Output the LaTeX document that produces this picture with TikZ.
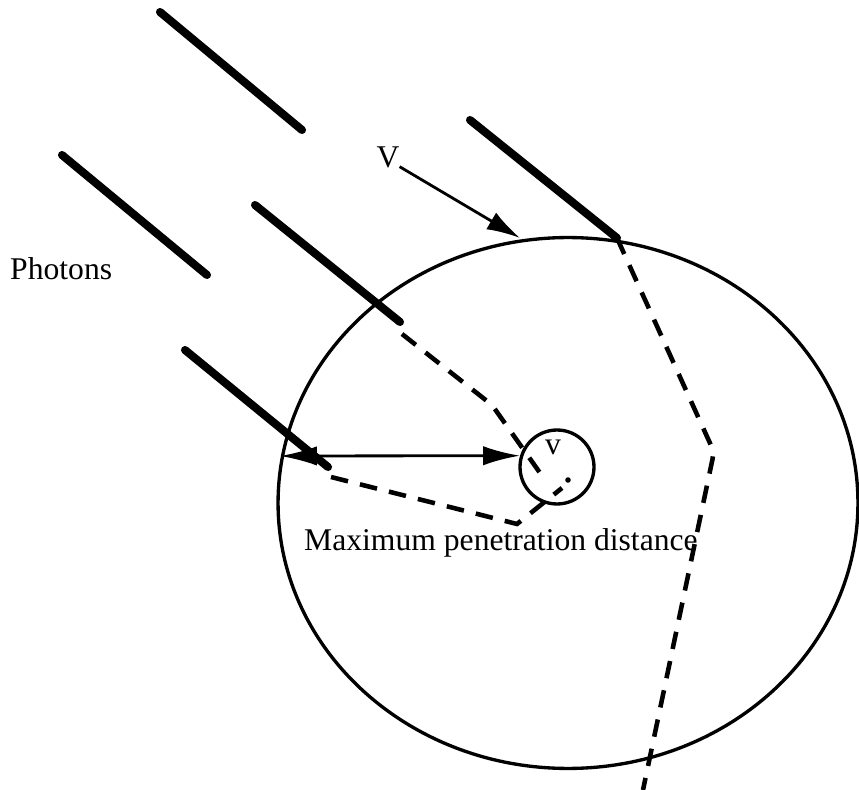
\documentclass[tikz,border=0pt]{standalone}
\usepackage{fontspec}
\setmainfont{Liberation Serif}
\usepackage{tikz}
\usetikzlibrary{arrows.meta,calc,positioning,shapes.geometric}
\tikzset{
  photon/.style={line width=4.6pt,line cap=round},
  track/.style={line width=2.6pt,dash pattern=on 10pt off 7pt},
  shell/.style={draw,line width=1.9pt},
  pointer/.style={line width=1.6pt,-{Latex[length=19pt,width=11pt]}},
  reach/.style={line width=1.6pt,{Latex[length=21pt,width=11pt]}-{Latex[length=21pt,width=11pt]}}
}

\begin{document}
\begin{tikzpicture}[x=0.02cm,y=-0.02cm,font=\fontsize{18}{20}\selectfont]
\useasboundingbox (0,0) rectangle (859,790);
% target sphere and the small volume inside it
\node[shell,ellipse,inner sep=0pt,minimum width=11.6cm,minimum height=10.62cm] (sphere) at (568,503) {};
\node[shell,circle,minimum size=1.48cm,inner sep=0pt] (vcell) at (557,467) {};
\fill (568,480) circle (2.8);
\node[anchor=base] (vsmall) at (553,455) {v};
% incoming photons
\foreach \xa/\ya/\xb/\yb/\name in {160/12/302/130/pa,62/155/207/275/pb,255/205/400/322/pc,185/350/328/467/pd,470/120/617/238/pe}{
  \draw[photon] (\xa,\ya) -- (\xb,\yb) coordinate (\name);}
% paths inside the sphere
\draw[track] (pc) ++(2,12) -- (492,405) -- (545,480);
\draw[track] (pd) ++(3,10) -- (517,524) -- (562,488);
\draw[track,rounded corners=4pt] (pe) -- (714,452) -- (643,790);
% labels and arrows
\node[anchor=base west] (photons) at (4,280) {Photons};
\node[anchor=base] (vbig) at (388,168) {V};
\coordinate (vhit) at (520,238);
\draw[pointer] (vbig.south east) ++(-6,-8) -- (vhit);
\coordinate (lefthit) at (280,456);
\draw[reach] (lefthit) -- (vcell.163);
\node[anchor=base west] (maxdist) at (298,550) {Maximum penetration distance};
\end{tikzpicture}
\end{document}
